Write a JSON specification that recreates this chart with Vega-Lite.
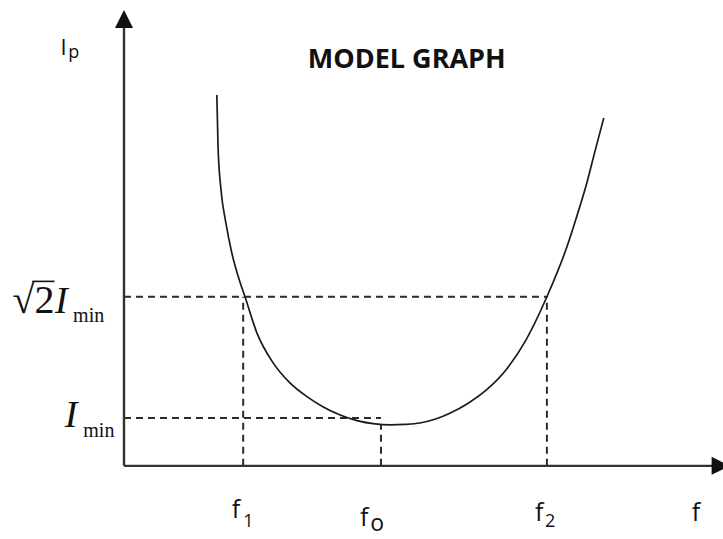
{
  "$schema": "https://vega.github.io/schema/vega-lite/v6.json",
  "width": 723,
  "height": 539,
  "padding": 0,
  "autosize": {"type": "none"},
  "background": "white",
  "config": {"view": {"stroke": null}},
  "encoding": {
    "x": {"field": "x", "type": "quantitative", "scale": {"domain": [-20.7, 100], "nice": false, "zero": false}, "axis": null},
    "y": {"field": "y", "type": "quantitative", "scale": {"domain": [-15.7, 100], "nice": false, "zero": false}, "axis": null}
  },
  "layer": [
    {
      "description": "guide lines from the curve to the axes",
      "data": {"values": [
        {"x": 0, "x2": 70.6, "y": 36.3, "y2": 36.3},
        {"x": 0, "x2": 42.9, "y": 10.3, "y2": 10.3},
        {"x": 19.9, "x2": 19.9, "y": 0, "y2": 36.3},
        {"x": 70.6, "x2": 70.6, "y": 0, "y2": 36.3},
        {"x": 42.9, "x2": 42.9, "y": 0, "y2": 9.0}
      ]},
      "mark": {"type": "rule", "color": "#2b2b2b", "strokeWidth": 2, "strokeDash": [7, 5]},
      "encoding": {"x2": {"field": "x2"}, "y2": {"field": "y2"}}
    },
    {
      "description": "axes",
      "data": {"values": [
        {"x": 0, "x2": 0, "y": 0, "y2": 94.5},
        {"x": 0, "x2": 98.5, "y": 0, "y2": 0}
      ]},
      "mark": {"type": "rule", "color": "#333333", "strokeWidth": 2.4},
      "encoding": {"x2": {"field": "x2"}, "y2": {"field": "y2"}}
    },
    {
      "description": "arrow head of the current axis",
      "data": {"values": [{"x": 0, "y": 95.9}]},
      "mark": {"type": "point", "shape": "M0,-1L1,1L-1,1Z", "size": 324, "filled": true, "color": "#111111", "opacity": 1}
    },
    {
      "description": "arrow head of the frequency axis",
      "data": {"values": [{"x": 99.6, "y": 0}]},
      "mark": {"type": "point", "shape": "M1,0L-1,-1L-1,1Z", "size": 324, "filled": true, "color": "#111111", "opacity": 1}
    },
    {
      "description": "resonance curve",
      "data": {"values": [
        {"x": 15.5, "y": 79.6}, {"x": 15.7, "y": 68.5}, {"x": 16.2, "y": 59.2},
        {"x": 17.0, "y": 52.2}, {"x": 18.0, "y": 45.7}, {"x": 19.4, "y": 39.3},
        {"x": 20.2, "y": 36.3}, {"x": 22.2, "y": 28.5}, {"x": 24.9, "y": 22.1},
        {"x": 27.7, "y": 17.8}, {"x": 30.6, "y": 14.8}, {"x": 33.2, "y": 12.7},
        {"x": 36.1, "y": 10.9}, {"x": 38.9, "y": 9.7}, {"x": 41.9, "y": 9.0},
        {"x": 44.4, "y": 8.8}, {"x": 46.9, "y": 8.9}, {"x": 49.4, "y": 9.2},
        {"x": 51.9, "y": 10.0}, {"x": 54.4, "y": 11.3}, {"x": 57.4, "y": 13.4},
        {"x": 60.6, "y": 16.4}, {"x": 63.9, "y": 20.8}, {"x": 67.1, "y": 27.0},
        {"x": 70.6, "y": 36.3}, {"x": 73.8, "y": 46.5}, {"x": 75.6, "y": 53.6},
        {"x": 77.3, "y": 60.9}, {"x": 78.6, "y": 67.4}, {"x": 80.1, "y": 74.7}
      ]},
      "mark": {"type": "line", "color": "#1a1a1a", "strokeWidth": 1.7, "interpolate": "monotone"}
    },
    {
      "description": "title",
      "data": {"values": [{"x": 47.2, "y": 85.4, "t": "MODEL GRAPH"}]},
      "mark": {"type": "text", "font": "Open Sans", "fontWeight": "bold", "fontSize": 27, "align": "center", "baseline": "alphabetic", "color": "#111111"},
      "encoding": {"text": {"field": "t"}}
    },
    {
      "description": "axis letters",
      "data": {"values": [
        {"x": 18.0, "y": -11.2, "t": "f"},
        {"x": 39.4, "y": -13.0, "t": "f"},
        {"x": 68.6, "y": -11.8, "t": "f"},
        {"x": 94.8, "y": -11.8, "t": "f"}
      ]},
      "mark": {"type": "text", "font": "Open Sans", "fontSize": 25, "align": "left", "baseline": "alphabetic", "color": "#111111"},
      "encoding": {"text": {"field": "t"}}
    },
    {
      "description": "current axis letter",
      "data": {"values": [{"x": -10.6, "y": 88.2, "t": "I"}]},
      "mark": {"type": "text", "font": "Open Sans", "fontSize": 22, "align": "left", "baseline": "alphabetic", "color": "#111111"},
      "encoding": {"text": {"field": "t"}}
    },
    {
      "description": "subscripts of the sans labels",
      "data": {"values": [
        {"x": 19.9, "y": -13.1, "t": "1"},
        {"x": 70.3, "y": -13.1, "t": "2"},
        {"x": -9.3, "y": 87.6, "t": "p"}
      ]},
      "mark": {"type": "text", "font": "Open Sans", "fontSize": 18, "align": "left", "baseline": "alphabetic", "color": "#111111"},
      "encoding": {"text": {"field": "t"}}
    },
    {
      "description": "subscript o of f0",
      "data": {"values": [{"x": 41.1, "y": -14.0, "t": "o"}]},
      "mark": {"type": "text", "font": "Open Sans", "fontSize": 23, "align": "left", "baseline": "alphabetic", "color": "#111111"},
      "encoding": {"text": {"field": "t"}}
    },
    {
      "description": "root two",
      "data": {"values": [{"x": -18.6, "y": 32.8, "t": "√2"}]},
      "mark": {"type": "text", "font": "Liberation Serif", "fontSize": 40, "align": "left", "baseline": "alphabetic", "color": "#111111"},
      "encoding": {"text": {"field": "t"}}
    },
    {
      "description": "bar of the root sign",
      "data": {"values": [{"x": -15.3, "x2": -11.6, "y": 39.6, "y2": 39.6}]},
      "mark": {"type": "rule", "color": "#111111", "strokeWidth": 1.6},
      "encoding": {"x2": {"field": "x2"}, "y2": {"field": "y2"}}
    },
    {
      "description": "italic I of the current levels",
      "data": {"values": [
        {"x": -11.5, "y": 32.8, "t": "I"},
        {"x": -9.9, "y": 8.4, "t": "I"}
      ]},
      "mark": {"type": "text", "font": "Liberation Serif", "fontStyle": "italic", "fontSize": 38, "align": "left", "baseline": "alphabetic", "color": "#111111"},
      "encoding": {"text": {"field": "t"}}
    },
    {
      "description": "min subscripts",
      "data": {"values": [
        {"x": -8.5, "y": 30.9, "t": "min"},
        {"x": -6.8, "y": 6.2, "t": "min"}
      ]},
      "mark": {"type": "text", "font": "Liberation Serif", "fontSize": 20, "align": "left", "baseline": "alphabetic", "color": "#111111"},
      "encoding": {"text": {"field": "t"}}
    }
  ]
}
